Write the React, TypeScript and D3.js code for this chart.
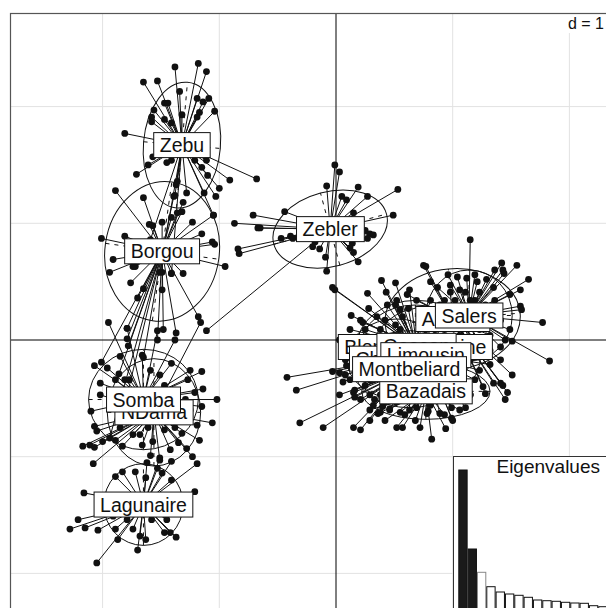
import React, { useEffect, useRef } from "react";
import * as d3 from "d3";

type Pt = [number, number];

const groupNames = ["Borgou", "Zebu", "Lagunaire", "NDama", "Somba", "Zebler", "Aubrac", "Bazadais", "BlondeAquitaine", "Charolais", "Gascon", "Limousin", "Montbeliard", "Salers"];

const centroidX = [-1.49, -1.32, -1.65, -1.56, -1.65, -0.05, 1.0, 0.77, 0.68, 0.52, 0.69, 0.77, 0.63, 1.14];
const centroidY = [0.76, 1.67, -1.41, -0.62, -0.51, 0.95, 0.18, -0.44, -0.06, -0.16, -0.05, -0.13, -0.25, 0.21];

const ellipseRx = [0.49, 0.33, 0.34, 0.4, 0.47, 0.5, 0.58, 0.55, 0.47, 0.43, 0.51, 0.47, 0.47, 0.37];
const ellipseRy = [0.6, 0.54, 0.35, 0.46, 0.43, 0.32, 0.43, 0.24, 0.36, 0.34, 0.39, 0.41, 0.33, 0.39];
const ellipseAngle = [-8, -5, 0, 0, 0, 15, 5, 0, 0, 0, 0, 0, 0, 0];

const borgouPts: Pt[] = [
  [-1.89, 1.28], [-1.65, 1.22], [-1.39, 1.23], [-1.31, 1.18], [-1.36, 1.09], [-1.41, 1.05], [-1.32, 1.1],
  [-1.49, 1.01], [-1.6, 0.99], [-1.57, 0.98], [-1.23, 1.01], [-1.05, 1.07], [-1.15, 0.91], [-1.06, 0.84],
  [-1.04, 0.82], [-1.81, 0.89], [-2.01, 0.87], [-1.91, 0.69], [-1.94, 0.58], [-1.72, 0.63], [-0.95, 0.63],
  [-1.49, 0.58], [-1.41, 0.57], [-1.31, 0.57], [-1.76, 0.49], [-1.74, 0.63], [-1.65, 0.44], [-1.49, 0.43],
  [-1.7, 0.36], [-1.79, 0.1], [-1.48, 0.09], [-1.37, 0.06], [-1.79, 0.01], [-1.53, 0.0], [-1.78, -0.05],
  [-1.65, -0.15], [-2.01, -0.19], [-1.86, -0.29], [-1.78, -0.43], [-1.94, -0.84], [-1.18, 0.2]
];

const zebuPts: Pt[] = [
  [-1.38, 2.34], [-1.18, 2.37], [-1.11, 2.3], [-1.65, 2.21], [-1.53, 2.22], [-1.34, 2.13], [-1.47, 2.03],
  [-1.44, 2.03], [-1.19, 2.07], [-1.09, 2.07], [-1.14, 2.04], [-1.56, 1.97], [-1.04, 1.96], [-1.17, 1.95],
  [-1.58, 1.91], [-1.58, 1.87], [-1.47, 1.89], [-1.41, 1.86], [-1.32, 1.93], [-1.19, 1.91], [-1.81, 1.77],
  [-1.57, 1.57], [-1.41, 1.54], [-1.45, 1.52], [-1.21, 1.54], [-1.11, 1.54], [-1.15, 1.48], [-1.1, 1.41],
  [-0.91, 1.37], [-0.68, 1.38], [-1.71, 1.42], [-1.36, 1.36], [-1.37, 1.33], [-1.0, 1.3], [-1.13, 1.26],
  [-1.03, 1.23], [-1.28, 1.26], [-1.05, 1.07], [-1.38, 1.24], [-1.61, 1.5], [-1.42, 1.71], [-1.21, 1.71],
  [-1.25, 1.63], [-1.35, 1.59], [-1.51, 0.58], [-1.41, 0.57], [-1.59, 0.86]
];

const lagunairePts: Pt[] = [
  [-1.62, -1.05], [-1.51, -1.01], [-1.41, -1.04], [-1.19, -1.06], [-1.83, -1.13], [-1.89, -1.17], [-1.72, -1.13],
  [-1.63, -1.18], [-1.53, -1.1], [-1.49, -1.14], [-1.41, -1.2], [-1.21, -1.3], [-2.16, -1.31], [-2.21, -1.54],
  [-2.28, -1.62], [-2.15, -1.61], [-2.04, -1.63], [-1.89, -1.62], [-1.74, -1.62], [-1.87, -1.71], [-1.68, -1.68],
  [-1.63, -1.71], [-1.7, -1.8], [-2.05, -1.91], [-1.47, -1.65], [-1.42, -1.65], [-1.37, -1.69], [-1.58, -1.54],
  [-1.45, -1.54], [-1.79, -1.54], [-1.91, -1.51]
];

const ndamaPts: Pt[] = [
  [-2.07, -0.74], [-2.05, -0.78], [-2.17, -0.91], [-2.11, -0.9], [-2.07, -0.92], [-2.0, -0.87], [-1.66, -0.9],
  [-1.83, -0.91], [-1.57, -0.87], [-1.38, -0.75], [-1.32, -0.8], [-1.35, -0.88], [-1.28, -0.93], [-1.23, -1.0],
  [-2.08, -1.06], [-1.06, -0.71], [-1.19, -0.73], [-1.89, -0.34], [-2.02, -0.47], [-1.51, -1.03], [-1.17, -0.86],
  [-1.16, 0.15], [-1.74, -0.81], [-1.45, -0.7], [-1.77, -0.69], [-1.47, -0.77], [-1.59, -0.99], [-1.42, -0.94],
  [-1.89, -0.86], [-1.68, -0.81], [-1.29, -0.64]
];

const sombaPts: Pt[] = [
  [-2.07, -0.22], [-1.96, -0.24], [-1.85, -0.14], [-1.66, -0.13], [-1.41, -0.2], [-1.25, -0.26], [-1.15, -0.27],
  [-1.27, -0.34], [-1.14, -0.42], [-1.02, -0.51], [-1.15, -0.57], [-2.1, -0.61], [-1.85, -0.75], [-1.61, -0.75],
  [-1.95, 0.15], [-1.79, 0.1], [-1.59, -0.26], [-1.47, -0.39], [-1.81, -0.34], [-1.53, 0.08], [-1.38, 0.0],
  [-1.25, -0.6], [-1.92, -0.55], [-1.77, -0.34], [-1.51, -0.3], [-1.38, -0.43], [-1.94, -0.47], [-1.29, -0.51],
  [-1.85, -0.6], [-2.02, -0.37], [-1.21, -0.45]
];

const zeblerPts: Pt[] = [
  [-0.01, 1.5], [0.03, 1.44], [-0.08, 1.32], [0.19, 1.31], [0.05, 1.23], [0.09, 1.2], [0.27, 1.23],
  [0.53, 1.29], [0.49, 1.07], [-0.44, 1.1], [0.15, 1.09], [-0.47, 0.87], [-0.39, 0.89], [-0.37, 0.87],
  [-0.18, 0.84], [-0.2, 0.8], [-0.14, 0.78], [0.25, 0.94], [0.29, 0.91], [0.27, 0.87], [0.32, 0.9],
  [0.14, 0.83], [0.12, 0.79], [0.15, 0.75], [-0.09, 0.71], [0.19, 0.67], [-0.08, 0.59], [-0.65, 0.96],
  [-0.87, 1.0], [-0.71, 1.07], [-0.67, 0.96], [-0.84, 0.78], [-0.83, 0.74], [-1.11, 0.08]
];

const aubracPts: Pt[] = [
  [0.75, 0.64], [0.77, 0.63], [0.81, 0.5], [0.69, 0.34], [0.61, 0.39], [1.51, -0.3], [1.47, -0.45],
  [1.43, -0.39], [1.41, -0.37], [1.35, -0.37], [1.45, -0.51], [1.28, -0.46], [1.26, -0.4], [1.11, 0.41],
  [1.19, 0.34], [0.93, 0.34], [0.89, 0.3], [1.02, 0.34], [1.28, 0.3], [1.23, 0.09], [1.32, 0.04],
  [1.06, 0.04], [0.85, 0.04], [0.81, 0.26], [0.98, 0.41], [1.15, 0.34], [0.72, 0.17], [1.41, -0.17],
  [1.19, -0.09]
];

const bazadaisPts: Pt[] = [
  [0.4, -0.57], [0.36, -0.63], [0.46, -0.59], [0.52, -0.75], [0.57, -0.75], [0.55, -0.62], [0.59, -0.64],
  [0.63, -0.6], [0.69, -0.58], [0.72, -0.75], [0.78, -0.63], [0.79, -0.61], [0.82, -0.85], [0.94, -0.76],
  [0.93, -0.64], [0.33, -0.51], [0.51, -0.53], [0.89, -0.51], [1.02, -0.5], [1.15, -0.47], [0.42, -0.69],
  [0.38, -0.47], [0.63, -0.51], [0.81, -0.56], [1.06, -0.6], [0.29, -0.6], [0.68, -0.69]
];

const blondePts: Pt[] = [
  [-0.03, 0.45], [-0.01, 0.43], [0.39, 0.51], [0.43, 0.41], [0.27, 0.4], [0.52, 0.34], [0.44, 0.3],
  [0.13, 0.21], [0.28, 0.27], [0.57, 0.2], [0.62, 0.27], [0.38, 0.09], [0.51, 0.13], [0.72, 0.13],
  [0.89, 0.1], [0.48, 0.0], [0.29, 0.0], [0.21, 0.17], [0.55, 0.26], [0.81, 0.34], [0.38, -0.04],
  [0.98, -0.04]
];

const charolaisPts: Pt[] = [
  [-0.42, -0.32], [-0.34, -0.43], [-0.03, -0.27], [0.03, -0.28], [0.06, -0.36], [0.09, -0.22], [0.25, -0.13],
  [0.31, -0.22], [0.38, -0.3], [0.21, -0.27], [0.46, -0.34], [0.12, -0.09], [0.03, 0.0], [0.16, -0.17],
  [0.29, -0.34], [0.08, -0.3], [0.42, -0.21]
];

const gasconPts: Pt[] = [
  [0.23, 0.15], [0.35, 0.2], [0.12, 0.09], [0.42, 0.17], [0.55, 0.09], [0.81, 0.15], [0.93, 0.04],
  [1.02, -0.09], [0.33, -0.04], [0.63, 0.43], [0.51, 0.49], [0.51, 0.3], [0.89, 0.21], [0.25, 0.09],
  [1.06, -0.13], [0.72, 0.26]
];

const limousinPts: Pt[] = [
  [0.99, -0.58], [1.11, -0.58], [0.99, -0.67], [0.89, -0.63], [1.0, -0.69], [1.15, -0.17], [1.23, -0.26],
  [1.32, -0.21], [1.19, -0.34], [1.06, -0.43], [0.89, -0.39], [1.02, -0.26], [1.15, -0.47], [0.93, -0.51],
  [1.32, -0.09], [0.63, -0.43]
];

const montbeliardPts: Pt[] = [
  [0.15, -0.45], [0.16, -0.43], [0.16, -0.49], [0.32, -0.56], [0.38, -0.62], [0.21, -0.77], [0.15, -0.75],
  [-0.31, -0.71], [-0.11, -0.75], [0.25, -0.39], [0.29, -0.47], [0.42, -0.47], [0.51, -0.45], [0.08, -0.17],
  [0.12, -0.34], [0.21, -0.51], [0.46, -0.6], [0.03, -0.47], [0.29, -0.69]
];

const salersPts: Pt[] = [
  [1.42, 0.66], [1.55, 0.64], [1.43, 0.6], [1.44, 0.57], [1.65, 0.52], [1.49, 0.39], [1.58, 0.29],
  [1.59, 0.26], [1.77, 0.15], [0.96, 0.56], [1.04, 0.54], [1.12, 0.53], [1.21, 0.5], [1.29, 0.52],
  [1.35, 0.45], [1.15, 0.86], [1.45, 0.0], [1.51, -0.01], [1.41, -0.06], [1.83, -0.18], [0.87, 0.45],
  [1.23, 0.41], [1.36, 0.34], [1.41, 0.17], [1.32, 0.13], [1.06, 0.43], [0.98, 0.47], [1.19, 0.56],
  [1.28, 0.26], [1.49, 0.09], [1.36, 0.6], [1.58, 0.43]
];

const groupPoints: Pt[][] = [borgouPts, zebuPts, lagunairePts, ndamaPts, sombaPts, zeblerPts, aubracPts, bazadaisPts, blondePts, charolaisPts, gasconPts, limousinPts, montbeliardPts, salersPts];

const gridTicks = [-2, -1, 0, 1, 2];
const gridLabel = "d = 1";

const eigenvalues = [1.41, 0.62, 0.387, 0.243, 0.19, 0.17, 0.157, 0.137, 0.11, 0.103, 0.097, 0.087, 0.08, 0.077, 0.053, 0.043];
const nBlack = 2;

const W = 606;
const H = 608;
const FONT = "'Liberation Sans', Arial, Helvetica, sans-serif";

export default function App() {
  const ref = useRef<SVGSVGElement | null>(null);

  useEffect(() => {
    const svg = d3.select(ref.current);
    svg.selectAll("*").remove();

    const x = d3.scaleLinear().domain([-2, 2]).range([102.6, 569.4]);
    const y = d3.scaleLinear().domain([-2, 2]).range([573.4, 106.6]);
    const left = 10, top = 13;

    svg.append("rect").attr("x", 0).attr("y", 0).attr("width", W).attr("height", H).attr("fill", "white");

    // grid
    const g = svg.append("g");
    gridTicks.filter((t) => t !== 0).forEach((t) => {
      g.append("line").attr("x1", x(t)).attr("x2", x(t)).attr("y1", top).attr("y2", H + 10)
        .attr("stroke", "#e2e2e2").attr("stroke-width", 1);
      g.append("line").attr("y1", y(t)).attr("y2", y(t)).attr("x1", left).attr("x2", W + 10)
        .attr("stroke", "#e2e2e2").attr("stroke-width", 1);
    });
    // d = 1 label
    g.append("rect").attr("x", 564).attr("y", 14).attr("width", 50).attr("height", 19).attr("fill", "white");
    g.append("text").attr("x", 604).attr("y", 29).attr("text-anchor", "end")
      .attr("font-family", FONT).attr("font-size", 16).attr("fill", "#111").text(gridLabel);

    // axes
    g.append("line").attr("x1", x(0)).attr("x2", x(0)).attr("y1", top).attr("y2", H + 10).attr("stroke", "#000").attr("stroke-width", 1);
    g.append("line").attr("y1", y(0)).attr("y2", y(0)).attr("x1", left).attr("x2", W + 10).attr("stroke", "#000").attr("stroke-width", 1);

    // frame
    g.append("rect").attr("x", left + 0.5).attr("y", top + 0.5).attr("width", 620).attr("height", 620)
      .attr("fill", "none").attr("stroke", "#555").attr("stroke-width", 1.2);

    const marks = svg.append("g");
    groupNames.forEach((name, i) => {
      const cx = centroidX[i], cy = centroidY[i];
      const pts = groupPoints[i];
      const gg = marks.append("g");
      // ellipse
      const a = ellipseAngle[i];
      const rxp = x(ellipseRx[i]) - x(0);
      const ryp = y(0) - y(ellipseRy[i]);
      gg.append("ellipse").attr("cx", x(cx)).attr("cy", y(cy)).attr("rx", rxp).attr("ry", ryp)
        .attr("transform", `rotate(${-a} ${x(cx)} ${y(cy)})`)
        .attr("fill", "none").attr("stroke", "#111").attr("stroke-width", 1);
      const rad = (a * Math.PI) / 180;
      const ax1: Pt = [Math.cos(rad) * ellipseRx[i], Math.sin(rad) * ellipseRx[i]];
      const ax2: Pt = [-Math.sin(rad) * ellipseRy[i], Math.cos(rad) * ellipseRy[i]];
      [ax1, ax2].forEach((v) => {
        gg.append("line").attr("x1", x(cx - v[0])).attr("y1", y(cy - v[1])).attr("x2", x(cx + v[0])).attr("y2", y(cy + v[1]))
          .attr("stroke", "#111").attr("stroke-width", 1).attr("stroke-dasharray", "4 5");
      });
      // stars
      gg.selectAll("line.star").data(pts).enter().append("line").attr("class", "star")
        .attr("x1", x(cx)).attr("y1", y(cy)).attr("x2", (d) => x(d[0])).attr("y2", (d) => y(d[1]))
        .attr("stroke", "#111").attr("stroke-width", 1);
      // points
      gg.selectAll("circle").data(pts).enter().append("circle")
        .attr("cx", (d) => x(d[0])).attr("cy", (d) => y(d[1])).attr("r", 3.4).attr("fill", "#111");
    });

    // labels
    const lab = svg.append("g");
    groupNames.forEach((name, i) => {
      const lg = lab.append("g");
      const rect = lg.append("rect");
      const t = lg.append("text").attr("x", x(centroidX[i])).attr("y", y(centroidY[i])).attr("dy", "0.36em")
        .attr("text-anchor", "middle").attr("font-family", FONT).attr("font-size", 19.5).attr("fill", "#111").text(name);
      const bb = (t.node() as SVGTextElement).getBBox();
      const padX = 6;
      rect.attr("x", bb.x - padX).attr("y", y(centroidY[i]) - 12.5).attr("width", bb.width + 2 * padX).attr("height", 25)
        .attr("fill", "white").attr("stroke", "#111").attr("stroke-width", 1);
    });

    // eigenvalue inset
    const ins = svg.append("g");
    const bx = 453, by = 456;
    ins.append("rect").attr("x", bx + 0.5).attr("y", by + 0.5).attr("width", 170).attr("height", 170)
      .attr("fill", "white").attr("stroke", "#333").attr("stroke-width", 1);
    const xb = d3.scaleBand<number>().domain(eigenvalues.map((_, i) => i)).range([458.3, 458.3 + eigenvalues.length * 9.33]).padding(0);
    const yb = d3.scaleLinear().domain([0, d3.max(eigenvalues) as number]).range([611, 470]);
    ins.selectAll("rect.bar").data(eigenvalues).enter().append("rect").attr("class", "bar")
      .attr("x", (_, i) => (xb(i) as number) + 0.5).attr("width", xb.bandwidth() - 1)
      .attr("y", (d) => yb(d)).attr("height", (d) => yb(0) - yb(d))
      .attr("fill", (_, i) => (i < nBlack ? "#1a1a1a" : "white"))
      .attr("stroke", (_, i) => (i === nBlack ? "#888" : "#111")).attr("stroke-width", 1);
    ins.append("text").attr("x", 600).attr("y", 472.5).attr("text-anchor", "end")
      .attr("font-family", FONT).attr("font-size", 19).attr("fill", "#111").text("Eigenvalues");
  }, []);

  return (
    <svg ref={ref} width={W} height={H} style={{ position: "absolute", left: 0, top: 0, display: "block" }} />
  );
}
